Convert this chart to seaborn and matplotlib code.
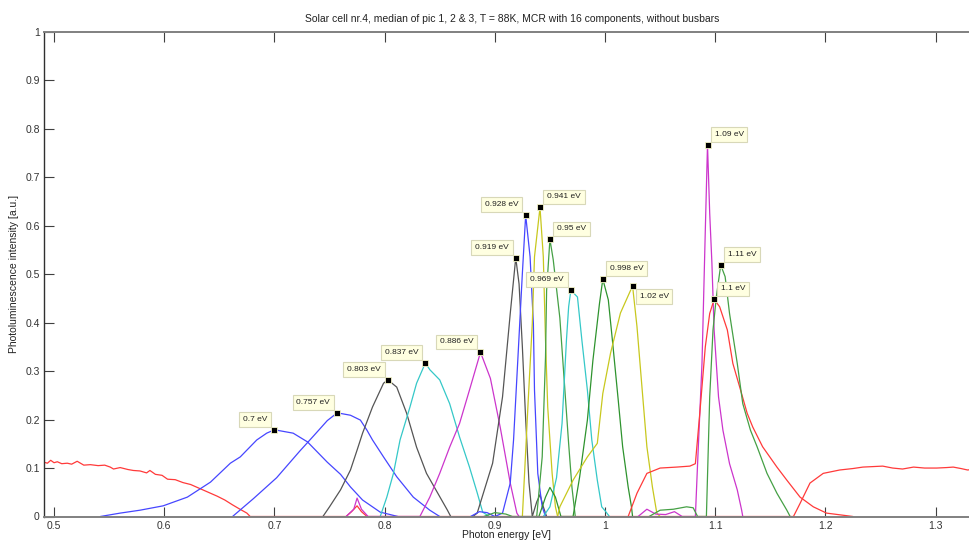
import numpy as np
import pandas as pd
import matplotlib
matplotlib.use("Agg")
import matplotlib.pyplot as plt
import seaborn as sns

# MCR components, (photon energy [eV], intensity [a.u.])
comp_070 = [(0.542, 0), (0.560, 0.007), (0.578, 0.013), (0.599, 0.022), (0.621, 0.040), (0.642, 0.071),
            (0.660, 0.110), (0.669, 0.123), (0.684, 0.158), (0.693, 0.172), (0.700, 0.179), (0.717, 0.172),
            (0.730, 0.154), (0.748, 0.112), (0.760, 0.087), (0.769, 0.061), (0.780, 0.034), (0.796, 0.009),
            (0.805, 0.004), (0.812, 0)]
comp_757 = [(0.662, 0), (0.681, 0.037), (0.702, 0.080), (0.723, 0.135), (0.735, 0.165), (0.748, 0.198),
            (0.757, 0.214), (0.769, 0.209), (0.778, 0.199), (0.784, 0.178), (0.789, 0.158), (0.799, 0.123),
            (0.811, 0.082), (0.826, 0.040), (0.841, 0.013), (0.850, 0)]
comp_803 = [(0.744, 0), (0.750, 0.020), (0.760, 0.055), (0.769, 0.096), (0.775, 0.137), (0.780, 0.172),
            (0.789, 0.226), (0.799, 0.275), (0.803, 0.282), (0.811, 0.267), (0.820, 0.213), (0.829, 0.143),
            (0.838, 0.089), (0.848, 0.049), (0.857, 0.013), (0.860, 0)]
comp_837 = [(0.796, 0), (0.802, 0.040), (0.808, 0.089), (0.814, 0.158), (0.823, 0.226), (0.829, 0.275),
            (0.837, 0.317), (0.841, 0.303), (0.850, 0.282), (0.859, 0.233), (0.868, 0.164), (0.877, 0.102),
            (0.884, 0.049), (0.889, 0.009), (0.895, 0)]
comp_886 = [(0.765, 0), (0.772, 0.015), (0.775, 0.038), (0.779, 0.015), (0.785, 0), (0.832, 0),
            (0.841, 0.040), (0.850, 0.089), (0.859, 0.143), (0.868, 0.192), (0.877, 0.261), (0.887, 0.339),
            (0.896, 0.285), (0.905, 0.183), (0.914, 0.069), (0.920, 0.007), (0.922, 0)]
comp_919 = [(0.880, 0), (0.884, 0.007), (0.898, 0.110), (0.907, 0.247), (0.914, 0.419), (0.919, 0.534),
            (0.922, 0.480), (0.925, 0.350), (0.928, 0.200), (0.931, 0.070), (0.934, 0), (0.938, 0.030),
            (0.941, 0.045), (0.944, 0.020), (0.947, 0)]
comp_928 = [(0.878, 0), (0.886, 0.010), (0.893, 0.008), (0.900, 0), (0.907, 0.007), (0.914, 0.069),
            (0.917, 0.158), (0.921, 0.329), (0.925, 0.502), (0.928, 0.622), (0.932, 0.536), (0.935, 0.398),
            (0.936, 0.261), (0.939, 0.089), (0.943, 0.020), (0.946, 0)]
comp_941 = [(0.925, 0), (0.927, 0.089), (0.930, 0.226), (0.934, 0.398), (0.936, 0.536), (0.941, 0.638),
            (0.944, 0.536), (0.946, 0.364), (0.948, 0.226), (0.952, 0.089), (0.955, 0.020), (0.957, 0)]
comp_950 = [(0.890, 0), (0.900, 0.008), (0.910, 0.005), (0.916, 0), (0.938, 0), (0.943, 0.123),
            (0.946, 0.329), (0.947, 0.467), (0.950, 0.572), (0.953, 0.530), (0.956, 0.470), (0.959, 0.410),
            (0.963, 0.280), (0.967, 0.150), (0.970, 0.060), (0.973, 0)]
comp_969 = [(0.944, 0), (0.950, 0.020), (0.956, 0.080), (0.961, 0.192), (0.965, 0.364), (0.967, 0.433),
            (0.969, 0.467), (0.975, 0.453), (0.979, 0.364), (0.984, 0.261), (0.988, 0.158), (0.993, 0.075),
            (0.997, 0.020), (1.000, 0.012), (1.004, 0)]
comp_998 = [(0.940, 0), (0.946, 0.040), (0.950, 0.060), (0.955, 0.040), (0.960, 0), (0.971, 0),
            (0.977, 0.082), (0.984, 0.199), (0.989, 0.322), (0.995, 0.440), (0.998, 0.490), (1.003, 0.447),
            (1.007, 0.357), (1.012, 0.240), (1.016, 0.144), (1.021, 0.061), (1.024, 0.020), (1.025, 0)]
comp_102 = [(0.957, 0), (0.959, 0.020), (0.971, 0.075), (0.984, 0.123), (0.993, 0.151), (0.998, 0.254),
            (1.005, 0.337), (1.014, 0.420), (1.025, 0.476), (1.029, 0.392), (1.034, 0.254), (1.038, 0.144),
            (1.043, 0.061), (1.047, 0.007), (1.050, 0)]
comp_109 = [(1.030, 0), (1.038, 0.015), (1.046, 0.005), (1.055, 0.004), (1.063, 0.010), (1.070, 0),
            (1.082, 0), (1.084, 0.109), (1.088, 0.316), (1.091, 0.590), (1.093, 0.767), (1.095, 0.626),
            (1.097, 0.523), (1.099, 0.385), (1.103, 0.247), (1.107, 0.178), (1.113, 0.109), (1.120, 0.055),
            (1.124, 0.013), (1.125, 0)]
comp_110 = [(1.021, 0), (1.029, 0.048), (1.038, 0.089), (1.050, 0.100), (1.065, 0.102), (1.077, 0.104),
            (1.082, 0.109), (1.086, 0.213), (1.091, 0.350), (1.095, 0.419), (1.099, 0.448), (1.104, 0.433),
            (1.111, 0.385), (1.116, 0.316), (1.123, 0.261), (1.129, 0.213), (1.134, 0.185), (1.143, 0.144),
            (1.156, 0.102), (1.165, 0.075), (1.177, 0.040), (1.189, 0.020), (1.201, 0.007), (1.225, 0)]
comp_111 = [(1.040, 0), (1.050, 0.013), (1.062, 0.015), (1.074, 0.020), (1.080, 0.018), (1.084, 0),
            (1.092, 0), (1.095, 0.247), (1.098, 0.385), (1.101, 0.453), (1.105, 0.519), (1.109, 0.495),
            (1.113, 0.419), (1.120, 0.316), (1.125, 0.233), (1.132, 0.178), (1.138, 0.144), (1.147, 0.089),
            (1.156, 0.048), (1.165, 0.013), (1.168, 0)]
comp_bg = [(0.491, 0.112), (0.494, 0.110), (0.497, 0.116), (0.500, 0.111), (0.503, 0.113), (0.507, 0.109),
           (0.512, 0.110), (0.516, 0.108), (0.521, 0.114), (0.527, 0.106), (0.533, 0.107), (0.540, 0.105),
           (0.546, 0.106), (0.551, 0.102), (0.554, 0.098), (0.560, 0.101), (0.567, 0.097), (0.572, 0.095),
           (0.578, 0.094), (0.584, 0.090), (0.587, 0.095), (0.592, 0.087), (0.598, 0.085), (0.603, 0.077),
           (0.610, 0.076), (0.617, 0.070), (0.624, 0.066), (0.632, 0.058), (0.640, 0.050), (0.648, 0.042),
           (0.655, 0.034), (0.662, 0.024), (0.668, 0.016), (0.675, 0.007), (0.678, 0), (0.765, 0),
           (0.770, 0.010), (0.775, 0.022), (0.779, 0.010), (0.784, 0), (1.171, 0), (1.177, 0.027),
           (1.186, 0.069), (1.198, 0.089), (1.213, 0.096), (1.225, 0.099), (1.234, 0.102), (1.243, 0.103),
           (1.252, 0.104), (1.261, 0.100), (1.270, 0.098), (1.280, 0.102), (1.290, 0.100), (1.301, 0.100),
           (1.310, 0.101), (1.316, 0.102), (1.323, 0.099), (1.329, 0.096), (1.333, 0.097)]

components = {
    "bg": comp_bg, "0.7": comp_070, "0.757": comp_757, "0.803": comp_803, "0.837": comp_837,
    "0.886": comp_886, "0.919": comp_919, "0.928": comp_928, "0.941": comp_941, "0.95": comp_950,
    "0.969": comp_969, "0.998": comp_998, "1.02": comp_102, "1.09": comp_109, "1.1": comp_110,
    "1.11": comp_111,
}
palette = {
    "bg": "#ff3a3a", "0.7": "#4646ff", "0.757": "#4646ff", "0.803": "#555555", "0.837": "#35c8c8",
    "0.886": "#cc35cc", "0.919": "#555555", "0.928": "#4646ff", "0.941": "#c8c81e", "0.95": "#45a045",
    "0.969": "#35c8c8", "0.998": "#2e932e", "1.02": "#c8c81e", "1.09": "#cc35cc", "1.1": "#ff3a3a",
    "1.11": "#45a045",
}
# datatip labels and where the box sits relative to the point
tip_labels = ["0.7", "0.757", "0.803", "0.837", "0.886", "0.919", "0.928", "0.941", "0.95",
              "0.969", "0.998", "1.02", "1.09", "1.1", "1.11"]
tip_side = ["ul", "ul", "ul", "ul", "ul", "ul", "ul", "ur", "ur", "ul", "ur", "lr", "ur", "ur", "ur"]

rows = []
for name, pts in components.items():
    for e, v in pts:
        rows.append({"component": name, "energy": e, "intensity": v})
df = pd.DataFrame(rows)

sns.set_theme(style="white")
plt.rcParams["font.family"] = ["Liberation Sans", "DejaVu Sans"]

fig = plt.figure(figsize=(9.69, 5.44), dpi=100)
ax = fig.add_axes([44 / 969, 27.5 / 544, 925 / 969, 484.5 / 544])

sns.lineplot(data=df, x="energy", y="intensity", hue="component", palette=palette,
             estimator=None, sort=False, legend=False, linewidth=0.9, ax=ax)

peaks = []
for name in tip_labels:
    pts = np.array(components[name])
    k = np.argmax(pts[:, 1])
    peaks.append({"label": name, "energy": pts[k, 0], "intensity": pts[k, 1]})
peaks = pd.DataFrame(peaks)
sns.scatterplot(data=peaks, x="energy", y="intensity", marker="s", s=22, color="black",
                edgecolor="#f5f5c8", linewidth=0.6, zorder=5, ax=ax)

offs = {"ul": ((-7, 7), "right", "bottom"), "ur": ((7, 7), "left", "bottom"), "lr": ((7, -7), "left", "top")}
for (_, r), side in zip(peaks.iterrows(), tip_side):
    xy, ha, va = offs[side]
    ax.annotate(f"{r['label']} eV", (r["energy"], r["intensity"]), xytext=xy, textcoords="offset pixels",
                ha=ha, va=va, fontsize=6, color="#222222", zorder=6,
                bbox=dict(boxstyle="square,pad=0.45", fc="#ffffe1", ec="#d8d8b8", lw=0.8))

ax.set_xlim(0.4909, 1.3303)
ax.set_ylim(0, 1)
ax.set_xticks([0.5, 0.6, 0.7, 0.8, 0.9, 1.0, 1.1, 1.2, 1.3])
ax.set_xticklabels(["0.5", "0.6", "0.7", "0.8", "0.9", "1", "1.1", "1.2", "1.3"])
ax.set_yticks(np.arange(0, 1.01, 0.1))
ax.set_yticklabels(["0", "0.1", "0.2", "0.3", "0.4", "0.5", "0.6", "0.7", "0.8", "0.9", "1"])
ax.tick_params(direction="in", length=7, width=0.8, color="#404040", labelsize=7.5,
               labelcolor="#333333", top=True, bottom=True, left=True, right=False, pad=3)
for s in ["top", "bottom"]:
    ax.spines[s].set_color("#808080")
    ax.spines[s].set_linewidth(1.4)
ax.spines["left"].set_color("#303030")
ax.spines["left"].set_linewidth(1.0)
ax.spines["right"].set_visible(False)

ax.set_xlabel("Photon energy [eV]", fontsize=7.5, color="#222222")
ax.xaxis.set_label_coords(0.5, -0.039)
ax.xaxis.label.set_va("center")
ax.set_ylabel("Photoluminescence intensity [a.u.]", fontsize=7.5, color="#222222")
ax.yaxis.set_label_coords(-0.0325, 0.5)
ax.yaxis.label.set_va("center")
ax.set_title("Solar cell nr.4, median of pic 1, 2 & 3, T = 88K, MCR with 16 components, without busbars",
             fontsize=7.5, color="#222222", x=0.506, pad=7)

fig.savefig("out.png", dpi=100)
